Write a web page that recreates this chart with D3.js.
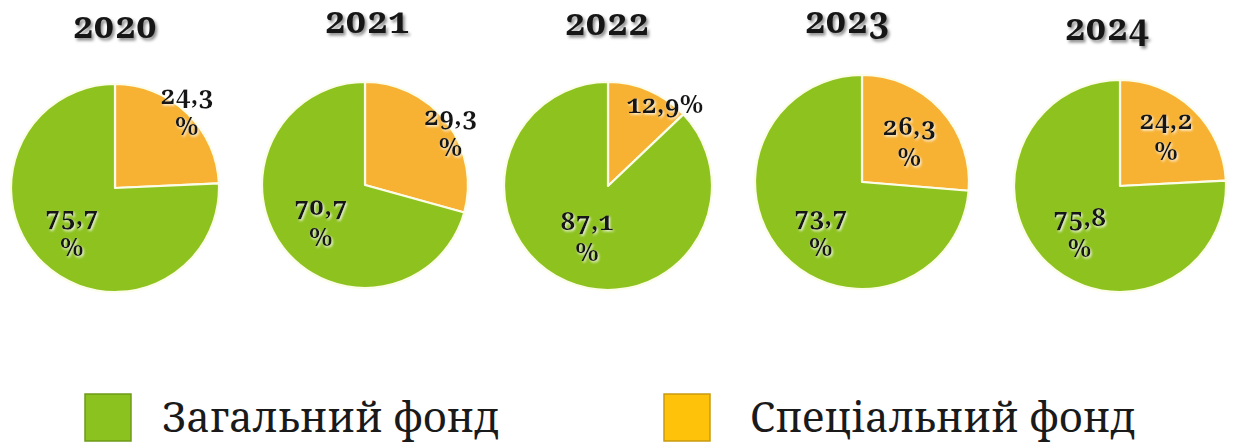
<!DOCTYPE html>
<html>
<head>
<meta charset="utf-8">
<script src="https://cdn.jsdelivr.net/npm/d3@7"></script>
<style>
  html, body { margin: 0; padding: 0; background: #fff; }
  svg { display: block; }
  .num {
    font-family: "Noto Serif", "Noto Sans", serif;
    font-weight: bold;
    font-variant-numeric: oldstyle-nums;
    font-feature-settings: "onum" 1;
  }
  .legend-text {
    font-family: "Noto Serif", "Liberation Serif", serif;
    fill: #1a1a1a;
  }
</style>
</head>
<body>
<svg id="chart" width="1235" height="444"></svg>
<script>
// Budget structure by year: general vs special fund, percent
const years = ["2020", "2021", "2022", "2023", "2024"];
const generalFund = [75.7, 70.7, 87.1, 73.7, 75.8];
const specialFund = [24.3, 29.3, 12.9, 26.3, 24.2];
const seriesNames = ["Загальний фонд", "Спеціальний фонд"];

// Layout for each pie: centre, radius, title placement
const pieCx = [115, 365, 608, 862, 1120];
const pieCy = [188, 185, 186, 182, 186];
const pieR = [104, 103, 104, 107, 106];
const titleDx = [0, 2, -1, -15, -13];
const titleY = [38, 33, 35, 33, 40];
// label anchor radius as a fraction of the pie radius: [special, general]
const labelRadius = [[1.0, 0.6], [1.03, 0.54], [0.9, 0.56], [0.6, 0.6], [0.63, 0.58]];
// small hand adjustments of each label from its anchor, px: [special, general]
const labelNudge = [
  [[0, -5], [0, -4]],
  [[1, 8], [0, 0]],
  [[20, 5], [2, -6]],
  [[0, 0], [6, 3]],
  [[0, -5], [2, -1]]
];
// whether the label wraps the percent sign onto a second line
const labelWrap = [[true, true], [true, true], [false, true], [true, true], [true, true]];

const colors = { special: "#f7b234", general: "#8dc21f" };
const legendColors = ["#8cc21f", "#ffc20a"];
const legendStroke = ["#6e9a19", "#c99a10"];

const svg = d3.select("#chart");

const defs = svg.append("defs");
const titleShadow = defs.append("filter").attr("id", "titleShadow")
  .attr("x", "-20%").attr("y", "-40%").attr("width", "150%").attr("height", "190%");
titleShadow.append("feDropShadow")
  .attr("dx", 2).attr("dy", 2.5).attr("stdDeviation", 1.6)
  .attr("flood-color", "#000").attr("flood-opacity", 0.45);

const labelGlow = defs.append("filter").attr("id", "labelGlow")
  .attr("x", "-20%").attr("y", "-40%").attr("width", "150%").attr("height", "190%");
labelGlow.append("feDropShadow")
  .attr("dx", 1.2).attr("dy", 1.5).attr("stdDeviation", 0.9)
  .attr("flood-color", "#fff").attr("flood-opacity", 0.85);

const fmt = v => d3.format(".1f")(v).replace(".", ",");

const pie = d3.pie().sort(null).value(d => d.value);

years.forEach((year, i) => {
  const slices = pie([
    { key: "special", value: specialFund[i] },
    { key: "general", value: generalFund[i] }
  ]);
  const R = pieR[i];
  const arc = d3.arc().innerRadius(0).outerRadius(R);

  const g = svg.append("g").attr("transform", `translate(${pieCx[i]},${pieCy[i]})`);

  g.selectAll("path.slice")
    .data(slices)
    .join("path")
    .attr("class", "slice")
    .attr("d", arc)
    .attr("fill", d => colors[d.data.key])
    .attr("stroke", "#fbfde8")
    .attr("stroke-width", 2.2)
    .attr("stroke-linejoin", "round");

  // value labels
  slices.forEach((d, j) => {
    const lr = R * labelRadius[i][j];
    const c = d3.arc().innerRadius(lr).outerRadius(lr).centroid(d);
    const lx = c[0] + labelNudge[i][j][0];
    const ly = c[1] + labelNudge[i][j][1];
    const t = g.append("text")
      .attr("class", "num")
      .attr("text-anchor", "middle")
      .attr("font-size", 26)
      .attr("fill", "#141414")
      .attr("filter", "url(#labelGlow)");
    if (labelWrap[i][j]) {
      t.append("tspan").attr("x", lx).attr("y", ly - 4).text(fmt(d.data.value));
      t.append("tspan").attr("x", lx).attr("y", ly + 27).text("%");
    } else {
      t.append("tspan").attr("x", lx).attr("y", ly + 8).text(fmt(d.data.value) + "%");
    }
  });

  // year title
  svg.append("text")
    .attr("class", "num")
    .attr("x", pieCx[i] + titleDx[i])
    .attr("y", titleY[i])
    .attr("text-anchor", "middle")
    .attr("font-size", 36)
    .attr("fill", "#161616")
    .attr("filter", "url(#titleShadow)")
    .text(year);
});

// legend
const legendX = [85, 664];
const legendTextX = [162, 750];
const legend = svg.append("g");
seriesNames.forEach((name, k) => {
  legend.append("rect")
    .attr("x", legendX[k]).attr("y", 394)
    .attr("width", 46).attr("height", 47)
    .attr("fill", legendColors[k])
    .attr("stroke", legendStroke[k])
    .attr("stroke-width", 1.5);
  legend.append("text")
    .attr("class", "legend-text")
    .attr("x", legendTextX[k]).attr("y", 432)
    .attr("font-size", 41)
    .text(name);
});
</script>
</body>
</html>
